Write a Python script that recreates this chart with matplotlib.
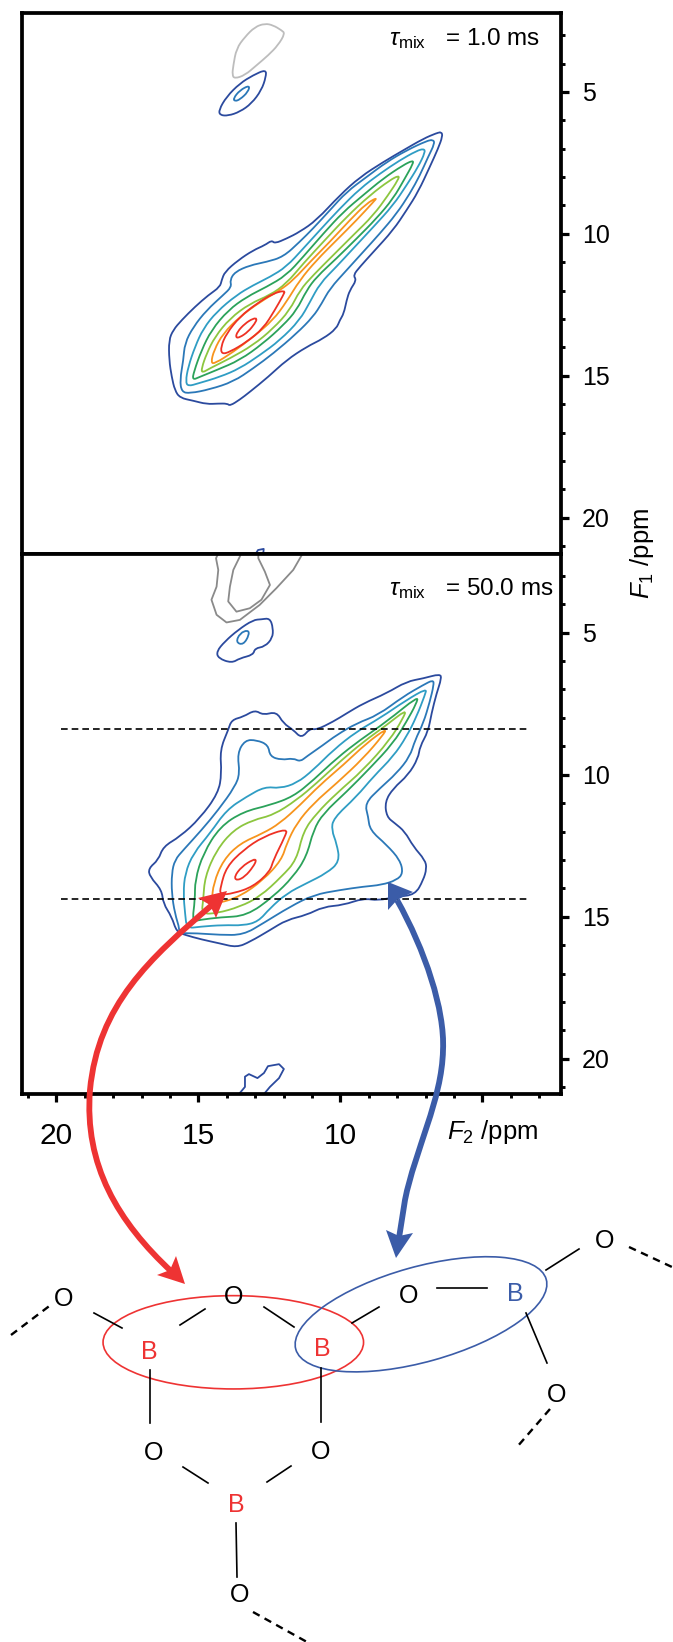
"""2D 11B MQMAS-style contour panels with the boroxol ring sketch below."""
import matplotlib
matplotlib.use("Agg")
import matplotlib.pyplot as plt
import numpy as np
from matplotlib.patches import Ellipse, PathPatch, Polygon
from matplotlib.path import Path

plt.rcParams["font.family"] = ["Liberation Sans", "DejaVu Sans"]
plt.rcParams["mathtext.fontset"] = "custom"
plt.rcParams["mathtext.rm"] = "Liberation Sans"
plt.rcParams["mathtext.it"] = "Liberation Sans:italic"

# contour levels, outermost first, as (F2, F1) in ppm
LEVEL_COLORS = ["#2b4a9e", "#2b78b8", "#2f9dc4", "#2ba25a", "#8cc63f", "#f7941d", "#ee3124", "#ee3124"]

TOP_CONTOURS = [
    [(6.44, 6.41), (6.40, 6.56), (6.56, 7.00), (6.85, 7.64), (7.26, 8.52), (7.67, 9.17), (8.14, 9.87), (8.84, 10.64),
     (9.31, 11.16), (9.55, 11.46), (9.43, 11.63), (9.67, 11.99), (9.78, 12.34), (9.88, 12.81), (10.02, 13.04),
     (10.14, 13.34), (10.60, 13.69), (11.19, 13.98), (11.90, 14.45), (12.54, 15.04), (13.19, 15.57), (13.54, 15.84),
     (13.89, 16.06), (13.98, 15.98), (14.30, 15.98), (14.71, 16.00), (15.18, 15.88), (15.65, 15.78), (15.83, 15.51),
     (15.94, 15.04), (16.03, 14.45), (16.04, 13.75), (15.89, 13.39), (15.59, 13.04), (15.12, 12.57), (14.65, 12.16),
     (14.24, 11.87), (14.18, 11.63), (14.07, 11.34), (13.60, 10.93), (13.07, 10.58), (12.66, 10.40), (12.42, 10.23),
     (12.31, 10.34), (11.90, 10.17), (11.43, 9.93), (10.84, 9.52), (10.02, 8.64), (9.31, 8.00), (8.49, 7.47),
     (7.79, 7.06), (7.08, 6.65), (6.61, 6.45)],
    [(6.73, 6.68), (6.68, 6.82), (6.91, 7.29), (7.20, 7.94), (7.55, 8.58), (8.02, 9.29), (8.61, 9.99), (9.20, 10.64),
     (9.78, 11.28), (10.37, 11.93), (10.66, 12.46), (10.96, 12.92), (11.54, 13.51), (12.37, 14.22), (13.07, 14.74),
     (13.77, 15.21), (14.60, 15.48), (15.30, 15.62), (15.59, 15.57), (15.65, 15.15), (15.53, 14.45), (15.48, 13.86),
     (15.18, 13.28), (14.71, 12.69), (14.13, 12.16), (13.83, 11.87), (13.89, 11.63), (13.71, 11.34), (13.19, 11.11),
     (12.60, 10.99), (12.01, 10.81), (11.43, 10.28), (10.96, 9.81), (10.37, 9.17), (9.78, 8.52), (9.08, 8.00),
     (8.37, 7.47), (7.67, 7.06), (6.97, 6.73)],
    [(7.06, 7.00), (7.01, 7.12), (7.26, 7.64), (7.67, 8.29), (8.14, 8.99), (8.84, 9.76), (9.55, 10.52), (10.14, 11.16),
     (10.72, 11.75), (11.07, 12.40), (11.43, 13.04), (12.13, 13.75), (12.83, 14.27), (13.54, 14.74), (14.24, 15.04),
     (15.01, 15.27), (15.36, 15.37), (15.45, 15.21), (15.36, 14.69), (15.12, 13.98), (14.83, 13.34), (14.36, 12.75),
     (13.66, 12.16), (13.07, 11.81), (12.48, 11.52), (11.90, 11.16), (11.31, 10.52), (10.72, 9.87), (10.02, 9.11),
     (9.31, 8.41), (8.61, 7.88), (7.91, 7.41), (7.32, 7.08)],
    [(7.44, 7.41), (7.44, 7.53), (7.73, 8.05), (8.14, 8.76), (8.73, 9.46), (9.43, 10.17), (10.14, 10.87), (10.84, 11.52),
     (11.19, 11.99), (11.54, 12.69), (12.01, 13.22), (12.72, 13.86), (13.54, 14.45), (14.36, 14.80), (14.95, 15.04),
     (15.21, 15.15), (15.16, 14.86), (14.89, 14.10), (14.54, 13.39), (13.95, 12.69), (13.30, 12.22), (12.60, 11.87),
     (11.90, 11.46), (11.31, 10.81), (10.60, 9.99), (9.90, 9.23), (9.20, 8.64), (8.49, 8.05), (7.79, 7.58)],
    [(7.93, 7.94), (7.96, 8.09), (8.32, 8.64), (8.84, 9.35), (9.55, 10.05), (10.25, 10.75), (10.96, 11.46), (11.43, 11.99),
     (11.78, 12.69), (12.37, 13.34), (13.07, 13.92), (13.89, 14.39), (14.60, 14.74), (14.87, 14.90), (14.89, 14.74),
     (14.71, 14.22), (14.42, 13.63), (13.89, 12.98), (13.19, 12.46), (12.48, 12.16), (11.90, 11.75), (11.31, 11.05),
     (10.60, 10.28), (9.78, 9.40), (8.96, 8.64), (8.26, 8.11)],
    [(8.70, 8.72), (8.84, 8.88), (9.43, 9.52), (10.14, 10.23), (10.84, 10.93), (11.43, 11.63), (11.90, 12.40),
     (12.37, 13.04), (13.07, 13.63), (13.77, 14.16), (14.42, 14.57), (14.56, 14.54), (14.45, 14.10), (14.13, 13.51),
     (13.54, 12.92), (12.83, 12.40), (12.13, 11.99), (11.66, 11.63), (11.07, 10.99), (10.37, 10.28), (9.67, 9.52),
     (9.08, 8.93)],
    [(11.94, 11.99), (12.01, 12.16), (12.31, 12.69), (12.72, 13.34), (13.30, 13.81), (13.89, 14.16), (14.18, 14.24),
     (14.21, 13.98), (14.01, 13.51), (13.54, 12.92), (12.95, 12.46), (12.37, 12.10)],
    [(12.93, 12.98), (13.01, 13.16), (13.25, 13.45), (13.54, 13.65), (13.69, 13.66), (13.63, 13.45), (13.36, 13.16),
     (13.07, 12.98)],
]

TOP_GRAY = [(12.66, 2.59), (12.37, 2.65), (12.07, 2.83), (11.95, 2.94), (12.19, 3.35), (12.54, 3.71), (12.95, 4.06),
            (13.36, 4.41), (13.72, 4.53), (13.81, 4.41), (13.77, 4.06), (13.66, 3.47), (13.36, 3.06), (13.01, 2.71)]
TOP_BLOB_OUTER = [(12.62, 4.21), (12.62, 4.47), (12.78, 4.94), (13.13, 5.41), (13.54, 5.70), (13.95, 5.84), (14.24, 5.82),
                  (14.28, 5.64), (14.01, 5.17), (13.54, 4.70), (13.07, 4.41)]
TOP_BLOB_INNER = [(13.19, 4.76), (13.25, 5.00), (13.54, 5.27), (13.72, 5.33), (13.77, 5.23), (13.54, 4.94)]
TOP_EDGE_BIT = [(13.0, 21.3), (12.9, 21.14), (12.7, 21.10), (12.72, 21.3)]

BOTTOM_CONTOURS = [
    [(6.49, 6.45), (6.44, 6.61), (6.61, 7.13), (6.79, 7.84), (6.91, 8.48), (7.20, 9.01), (7.26, 9.42), (7.61, 10.01),
     (8.14, 10.48), (8.43, 10.95), (8.37, 11.48), (8.08, 11.71), (7.73, 12.00), (7.43, 12.53), (7.02, 13.00),
     (6.96, 13.30), (7.08, 13.71), (7.37, 14.23), (8.02, 14.29), (8.67, 14.43), (9.19, 14.35), (9.90, 14.59),
     (10.60, 14.65), (11.19, 14.94), (11.89, 15.11), (12.48, 15.47), (13.18, 15.88), (13.65, 16.08), (14.24, 15.94),
     (14.89, 15.80), (15.47, 15.64), (15.77, 15.53), (15.94, 15.00), (16.24, 14.53), (16.29, 14.06), (16.71, 13.59),
     (16.76, 13.30), (16.41, 13.00), (16.24, 12.53), (15.65, 12.18), (14.95, 11.54), (14.30, 10.65), (14.18, 9.95),
     (14.24, 9.13), (13.95, 8.42), (13.83, 8.07), (13.42, 7.96), (13.01, 7.72), (12.72, 7.90), (12.25, 7.78),
     (12.01, 8.19), (11.66, 8.42), (11.37, 8.72), (11.07, 8.37), (10.84, 8.42), (10.25, 8.13), (9.78, 7.84),
     (9.19, 7.49), (8.37, 7.13), (7.67, 6.72), (7.08, 6.61)],
    [(6.73, 6.66), (6.71, 6.84), (6.85, 7.43), (7.08, 8.19), (7.37, 8.78), (7.55, 9.36), (8.02, 9.95), (8.61, 10.48),
     (9.14, 11.01), (9.02, 11.48), (8.96, 11.95), (8.37, 12.47), (7.90, 13.00), (7.79, 13.47), (8.02, 13.71),
     (8.55, 13.88), (9.19, 13.94), (10.02, 14.06), (10.95, 14.23), (11.78, 14.65), (12.72, 15.23), (13.42, 15.64),
     (14.24, 15.64), (15.06, 15.58), (15.71, 15.58), (15.65, 15.47), (15.83, 14.88), (15.94, 14.18), (15.94, 13.47),
     (15.83, 13.00), (15.53, 12.65), (14.89, 11.95), (14.30, 11.24), (13.71, 10.42), (13.54, 9.95), (13.63, 9.25),
     (13.36, 8.78), (12.95, 8.78), (12.54, 8.95), (12.48, 9.36), (12.07, 9.48), (11.66, 9.42), (11.42, 9.54),
     (11.19, 9.36), (10.60, 8.95), (10.13, 8.60), (9.43, 8.19), (8.67, 7.90), (7.79, 7.25), (7.08, 6.84)],
    [(6.96, 6.96), (7.02, 7.19), (7.32, 7.96), (7.67, 8.66), (8.14, 9.36), (8.84, 10.07), (9.43, 10.77), (10.25, 11.54),
     (10.31, 11.95), (10.13, 12.42), (10.02, 13.06), (10.49, 13.47), (11.19, 13.82), (11.89, 14.18), (12.48, 14.70),
     (12.89, 15.17), (13.42, 15.31), (14.12, 15.29), (14.95, 15.35), (15.41, 15.41), (15.47, 14.88), (15.53, 14.18),
     (15.47, 13.47), (15.18, 12.77), (14.59, 12.06), (14.01, 11.24), (13.30, 10.77), (12.66, 10.42), (12.13, 10.48),
     (11.54, 10.30), (10.95, 9.83), (10.25, 9.13), (9.43, 8.48), (8.61, 8.01), (7.67, 7.37)],
    [(7.26, 7.23), (7.32, 7.49), (7.67, 8.13), (8.14, 8.89), (8.96, 9.77), (9.78, 10.60), (10.60, 11.36), (10.95, 11.95),
     (11.19, 12.88), (11.66, 13.59), (12.36, 14.29), (13.30, 14.97), (14.24, 15.02), (14.95, 15.11), (15.22, 15.17),
     (15.12, 14.41), (15.12, 13.71), (14.83, 12.77), (14.24, 11.83), (13.42, 11.30), (12.48, 11.07), (11.66, 10.77),
     (10.95, 10.19), (10.13, 9.42), (9.31, 8.78), (8.37, 8.13)],
    [(7.67, 7.70), (7.79, 8.01), (8.26, 8.78), (9.19, 9.83), (10.13, 10.65), (10.84, 11.36), (11.31, 12.00), (11.54, 13.00),
     (12.07, 13.59), (12.83, 14.29), (13.54, 14.65), (14.36, 14.88), (14.89, 14.90), (14.83, 14.41), (14.77, 13.59),
     (14.36, 12.65), (13.77, 11.95), (13.07, 11.59), (12.36, 11.42), (11.54, 10.89), (10.84, 10.30), (10.02, 9.54),
     (9.19, 8.84), (8.37, 8.25)],
    [(8.37, 8.37), (8.49, 8.60), (9.19, 9.42), (10.13, 10.30), (10.95, 11.01), (11.54, 11.71), (11.89, 12.42), (12.07, 13.00),
     (12.72, 13.71), (13.54, 14.29), (14.30, 14.53), (14.53, 14.47), (14.47, 13.82), (14.12, 13.00), (13.54, 12.42),
     (12.72, 12.06), (12.13, 11.71), (11.42, 11.07), (10.72, 10.36), (9.90, 9.66), (9.08, 8.89)],
    [(11.86, 11.89), (11.95, 12.18), (12.36, 13.00), (12.48, 13.41), (13.07, 13.94), (13.77, 14.18), (14.24, 14.23),
     (14.22, 13.94), (14.01, 13.24), (13.42, 12.65), (12.72, 12.18)],
    [(12.95, 13.00), (13.07, 13.24), (13.36, 13.59), (13.65, 13.73), (13.74, 13.59), (13.48, 13.24), (13.07, 12.98)],
]

BOTTOM_GRAY_OUTER = [(11.25, 2.08), (11.66, 2.79), (12.25, 3.43), (12.84, 4.02), (13.54, 4.55), (14.01, 4.64), (14.36, 4.37),
                     (14.54, 3.84), (14.36, 3.38), (14.30, 2.79), (14.38, 2.38), (14.24, 2.08)]
BOTTOM_GRAY_INNER = [(12.89, 2.08), (12.89, 2.38), (12.66, 2.85), (12.48, 3.32), (12.78, 3.84), (13.19, 4.14), (13.66, 4.26),
                     (13.95, 3.90), (13.89, 3.38), (13.77, 2.79), (13.54, 2.32), (13.45, 2.08)]
BOTTOM_BLOB_OUTER = [(12.48, 4.49), (12.37, 4.84), (12.39, 5.19), (12.66, 5.49), (13.01, 5.55), (13.07, 5.78), (13.54, 5.90),
                     (13.83, 6.07), (14.30, 5.90), (14.36, 5.66), (14.07, 5.31), (13.60, 4.90), (13.07, 4.55), (12.78, 4.53)]
BOTTOM_BLOB_INNER = [(13.25, 4.90), (13.21, 5.08), (13.42, 5.43), (13.68, 5.34), (13.54, 5.02)]
BOTTOM_EDGE_BLOB = [(13.57, 21.24), (13.36, 20.99), (13.36, 20.63), (13.22, 20.54), (12.92, 20.68), (12.69, 20.50),
                    (12.55, 20.26), (12.16, 20.19), (11.99, 20.36), (12.16, 20.68), (12.48, 20.99), (12.69, 21.24)]

DASHED_F1 = [8.39, 14.39]
DASHED_F2 = (19.85, 3.44)

XTICKS = [20, 15, 10, 5]
XTICK_LABELS = ["20", "15", "10", ""]
YTICKS = [5, 10, 15, 20]

# sketch below the panels, on the picture's own pixel scale
O_ATOMS = [(64, 1299), (234, 1297), (409, 1296), (605, 1241), (557, 1395), (154, 1453), (321, 1452), (240, 1595)]
RED_B_ATOMS = [(149, 1352), (322, 1349), (236, 1505)]
BLUE_B_ATOMS = [(515, 1294)]
BONDS = [((94, 1313), (122, 1328)), ((180, 1325), (205, 1309)), ((264, 1307), (294, 1327)), ((352, 1323), (379, 1307)),
         ((437, 1288), (487, 1288)), ((546, 1270), (579, 1249)), ((526, 1313), (547, 1363)), ((150, 1370), (150, 1423)),
         ((321, 1368), (321, 1422)), ((183, 1467), (208, 1483)), ((291, 1466), (267, 1482)), ((236, 1523), (237, 1577))]
DASHED_BONDS = [((11, 1335), (52, 1304)), ((629, 1247), (672, 1267)), ((550, 1409), (517, 1447)), ((253, 1612), (307, 1642))]

RED = "#ee3333"
BLUE = "#3b5ca8"


def draw_closed(ax, points, color, lw=1.3):
    # rounded outline: read points act as control points of a quadratic path
    pts = np.array(points)
    mids = (pts + np.roll(pts, -1, axis=0)) / 2
    verts = [mids[-1]]
    codes = [Path.MOVETO]
    for ctrl, end in zip(pts, mids):
        verts += [ctrl, end]
        codes += [Path.CURVE3, Path.CURVE3]
    ax.add_patch(PathPatch(Path(verts, codes), fc="none", ec=color, lw=lw, joinstyle="round"))


def draw_open(ax, points, color, lw=1.3):
    arr = np.array(points)
    ax.plot(arr[:, 0], arr[:, 1], color=color, lw=lw, solid_joinstyle="round")


def style_panel(ax, ylim, show_x):
    ax.set_xlim(21.23, 2.23)
    ax.set_ylim(*ylim)
    for spine in ax.spines.values():
        spine.set_linewidth(2.7)
    ax.yaxis.tick_right()
    ax.set_yticks(YTICKS)
    ax.set_yticks(np.arange(3, 22), minor=True)
    ax.tick_params(axis="y", which="major", length=6, width=2.3, labelsize=18, pad=9)
    ax.tick_params(axis="y", which="minor", length=3, width=2.1)
    if show_x:
        ax.set_xticks(XTICKS)
        ax.set_xticklabels(XTICK_LABELS)
        ax.set_xticks(np.arange(3, 22), minor=True)
        ax.tick_params(axis="x", which="major", length=6, width=2.3, labelsize=21.5, pad=14)
        ax.tick_params(axis="x", which="minor", length=3, width=2.1)
    else:
        ax.set_xticks([])


def draw_arrow(ax, verts, codes, head, color):
    ax.add_patch(PathPatch(Path(verts, codes), fc="none", ec=color, lw=4.2, capstyle="butt"))
    for tri in head:
        ax.add_patch(Polygon(tri, closed=True, fc=color, ec="none"))


def main() -> None:
    fig = plt.figure(figsize=(6.73, 16.42), dpi=100)
    W, H = 673, 1642

    ax_top = fig.add_axes([21.5 / W, 1 - 554 / H, (561 - 21.5) / W, (554 - 13) / H])
    ax_bot = fig.add_axes([21.5 / W, 1 - 1094 / H, (561 - 21.5) / W, (1094 - 554) / H])

    for contour, color in zip(TOP_CONTOURS, LEVEL_COLORS):
        draw_closed(ax_top, contour, color)
    draw_closed(ax_top, TOP_GRAY, "#bdbdbd")
    draw_closed(ax_top, TOP_BLOB_OUTER, LEVEL_COLORS[0])
    draw_closed(ax_top, TOP_BLOB_INNER, LEVEL_COLORS[1])
    draw_open(ax_top, TOP_EDGE_BIT, LEVEL_COLORS[0])

    for contour, color in zip(BOTTOM_CONTOURS, LEVEL_COLORS):
        draw_closed(ax_bot, contour, color)
    draw_open(ax_bot, BOTTOM_GRAY_OUTER, "#8a8a8a")
    draw_open(ax_bot, BOTTOM_GRAY_INNER, "#8a8a8a")
    draw_closed(ax_bot, BOTTOM_BLOB_OUTER, LEVEL_COLORS[0])
    draw_closed(ax_bot, BOTTOM_BLOB_INNER, LEVEL_COLORS[1])
    draw_open(ax_bot, BOTTOM_EDGE_BLOB, LEVEL_COLORS[0])

    for f1 in DASHED_F1:
        ax_bot.plot(DASHED_F2, [f1, f1], color="black", lw=1.2, dashes=(4, 2.4))

    style_panel(ax_top, (21.28, 2.22), False)
    style_panel(ax_bot, (21.24, 2.23), True)

    ax_top.text(0.961, 0.941, r"$\tau_{\mathrm{mix}}$   = 1.0 ms", transform=ax_top.transAxes,
                ha="right", va="baseline", fontsize=17.5)
    ax_bot.text(0.987, 0.924, r"$\tau_{\mathrm{mix}}$   = 50.0 ms", transform=ax_bot.transAxes,
                ha="right", va="baseline", fontsize=17.5)

    # overlay: arrows, labels and the ring sketch, one unit per pixel
    ov = fig.add_axes([0, 0, 1, 1], facecolor="none")
    ov.set_xlim(0, W)
    ov.set_ylim(H, 0)
    ov.axis("off")

    ov.text(447, 1139, r"$\mathit{F}_{2}$ /ppm", fontsize=18.5, ha="left", va="baseline")
    ov.text(642, 553, r"$\mathit{F}_{1}$ /ppm", fontsize=18.5, rotation=90, ha="center", va="center")

    red_codes = [Path.MOVETO, Path.CURVE4, Path.CURVE4, Path.CURVE4, Path.CURVE4, Path.CURVE4, Path.CURVE4]
    red_verts = [(212, 905), (150, 958), (98, 1005), (90, 1090), (84, 1165), (118, 1222), (172, 1272)]
    red_head = [[(227, 891), (198, 898), (210, 905), (216, 918)], [(185, 1284), (176, 1256), (170, 1270), (157, 1275)]]
    draw_arrow(ov, red_verts, red_codes, red_head, RED)

    blue_codes = [Path.MOVETO, Path.CURVE4, Path.CURVE4, Path.CURVE4, Path.CURVE4, Path.CURVE4, Path.CURVE4, Path.LINETO]
    blue_verts = [(397, 900), (425, 950), (445, 1010), (443, 1050), (442, 1100), (415, 1150), (405, 1200), (399, 1238)]
    blue_head = [[(388, 882), (413, 892), (397, 900), (388, 910)], [(396, 1258), (386, 1230), (399, 1236), (413, 1233)]]
    draw_arrow(ov, blue_verts, blue_codes, blue_head, BLUE)

    ov.add_patch(Ellipse((233.3, 1342.3), 260.5, 93.3, fc="none", ec=RED, lw=1.2))
    ov.add_patch(Ellipse((421, 1314.3), 260, 95, angle=-15.6, fc="none", ec=BLUE, lw=1.2))

    for start, end in BONDS:
        ov.plot([start[0], end[0]], [start[1], end[1]], color="black", lw=1.2)
    for start, end in DASHED_BONDS:
        ov.plot([start[0], end[0]], [start[1], end[1]], color="black", lw=1.7, dashes=(3.2, 2.4), clip_on=False)

    for x, y in O_ATOMS:
        ov.text(x, y, "O", fontsize=18, ha="center", va="center")
    for x, y in RED_B_ATOMS:
        ov.text(x, y, "B", fontsize=18, ha="center", va="center", color=RED)
    for x, y in BLUE_B_ATOMS:
        ov.text(x, y, "B", fontsize=18, ha="center", va="center", color=BLUE)

    fig.savefig("out.png", dpi=100)
    plt.close(fig)


if __name__ == "__main__":
    main()
